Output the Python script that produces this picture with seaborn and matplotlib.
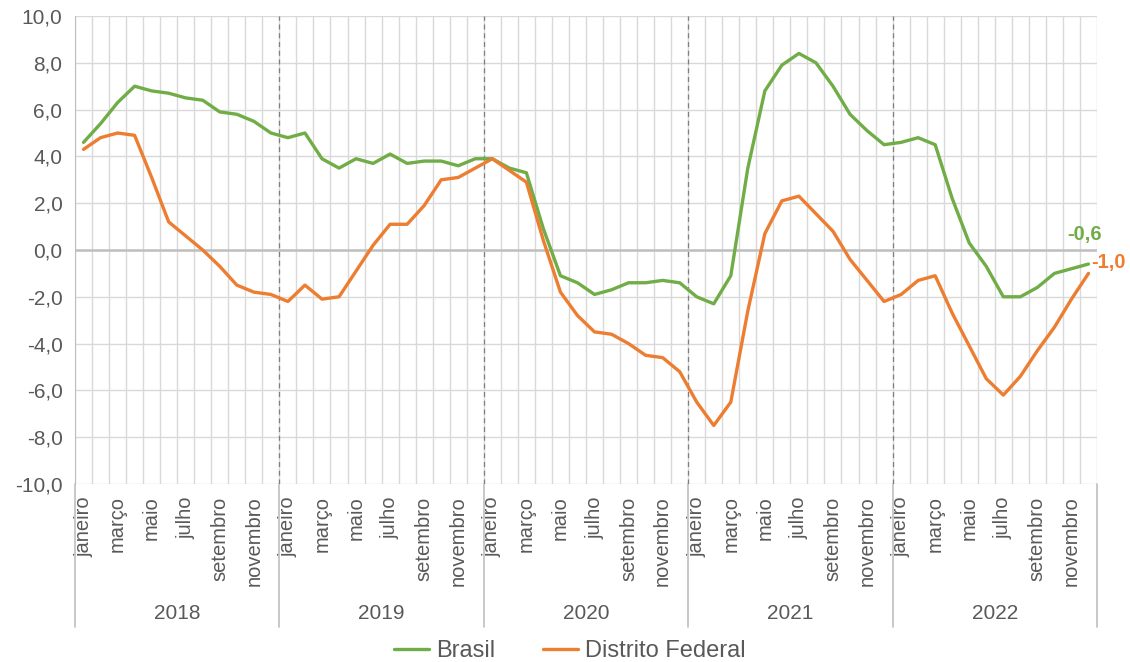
import numpy as np
import pandas as pd
import matplotlib.pyplot as plt
from matplotlib.lines import Line2D
import seaborn as sns

# ---------------------------
# Data (monthly variation, %)
# ---------------------------
anos = ["2018", "2019", "2020", "2021", "2022"]
meses = ["janeiro", "fevereiro", "março", "abril", "maio", "junho", "julho",
         "agosto", "setembro", "outubro", "novembro", "dezembro"]

brasil = [4.6, 5.4, 6.3, 7.0, 6.8, 6.7, 6.5, 6.4, 5.9, 5.8, 5.5, 5.0,
          4.8, 5.0, 3.9, 3.5, 3.9, 3.7, 4.1, 3.7, 3.8, 3.8, 3.6, 3.9,
          3.9, 3.5, 3.3, 0.9, -1.1, -1.4, -1.9, -1.7, -1.4, -1.4, -1.3, -1.4,
          -2.0, -2.3, -1.1, 3.5, 6.8, 7.9, 8.4, 8.0, 7.0, 5.8, 5.1, 4.5,
          4.6, 4.8, 4.5, 2.2, 0.3, -0.7, -2.0, -2.0, -1.6, -1.0, -0.8, -0.6]

distrito_federal = [4.3, 4.8, 5.0, 4.9, 3.1, 1.2, 0.6, 0.0, -0.7, -1.5, -1.8, -1.9,
                    -2.2, -1.5, -2.1, -2.0, -0.9, 0.2, 1.1, 1.1, 1.9, 3.0, 3.1, 3.5,
                    3.9, 3.4, 2.9, 0.4, -1.8, -2.8, -3.5, -3.6, -4.0, -4.5, -4.6, -5.2,
                    -6.5, -7.5, -6.5, -2.6, 0.7, 2.1, 2.3, 1.55, 0.8, -0.4, -1.3, -2.2,
                    -1.9, -1.3, -1.1, -2.7, -4.1, -5.5, -6.2, -5.4, -4.3, -3.3, -2.1, -1.0]

series_names = ["Brasil", "Distrito Federal"]
colors = ["#70AD47", "#ED7D31"]

n = len(brasil)
idx = np.arange(n)
df = pd.DataFrame({
    "mes": np.concatenate([idx, idx]),
    "valor": brasil + distrito_federal,
    "serie": [series_names[0]] * n + [series_names[1]] * n,
})

# ---------------------------
# Style
# ---------------------------
sns.set_style("white")
plt.rcParams["font.family"] = ["Liberation Sans", "DejaVu Sans"]
txt = "#595959"
grid_c = "#D9D9D9"

fig = plt.figure(figsize=(11.3, 6.62), dpi=100)
ax = fig.add_axes([75 / 1130, 1 - 484 / 662, 1022 / 1130, 468 / 662])

sns.lineplot(data=df, x="mes", y="valor", hue="serie", palette=colors,
             linewidth=2.4, ax=ax, zorder=5)

ax.set_xlim(-0.5, n - 0.5)
ax.set_ylim(-10, 10)

# y axis
yt = np.arange(-10, 11, 2)
ax.set_yticks(yt)
ax.set_yticklabels([f"{v:.1f}".replace(".", ",") for v in yt], fontsize=15, color=txt)
ax.tick_params(axis="y", length=5, color="#BFBFBF", width=1, pad=4)

# x axis: month labels every other month
ax.set_xticks(idx[::2])
ax.set_xticklabels([meses[i % 12] for i in idx[::2]], rotation=90, fontsize=14.5, color=txt)
ax.tick_params(axis="x", length=0, pad=9)
ax.set_xticks(np.arange(-0.5, n, 1), minor=True)
ax.tick_params(axis="x", which="minor", length=0)

ax.grid(True, axis="y", color=grid_c, linewidth=1)
ax.grid(True, axis="x", which="minor", color=grid_c, linewidth=1)
ax.axhline(0, color="#BFBFBF", linewidth=1.8, zorder=2)
for b in range(12, n, 12):
    ax.axvline(b - 0.5, color="#7F7F7F", linewidth=0.9, linestyle=(0, (4, 3)), zorder=3)

for s in ["top", "right", "bottom"]:
    ax.spines[s].set_visible(False)
ax.spines["left"].set_color("#BFBFBF")
ax.set_xlabel("")
ax.set_ylabel("")

# year labels and separators below the axis
trans = ax.get_xaxis_transform()
for k, ano in enumerate(anos):
    ax.text(12 * k + 5.5, -0.276, ano, transform=trans, ha="center", va="center",
            fontsize=15, color=txt)
for b in range(0, n + 1, 12):
    ax.add_line(Line2D([b - 0.5, b - 0.5], [0, -0.306], transform=trans,
                       color="#BFBFBF", linewidth=1.2, clip_on=False))

# end labels
ax.annotate(f"{brasil[-1]:.1f}".replace(".", ","), (n - 1, brasil[-1]),
            xytext=(-3, 21), textcoords="offset points", ha="center", va="center",
            fontsize=14.5, fontweight="bold", color=colors[0], annotation_clip=False)
ax.annotate(f"{distrito_federal[-1]:.1f}".replace(".", ","), (n - 1, distrito_federal[-1]),
            xytext=(2, 8), textcoords="offset points", ha="left", va="center",
            fontsize=14.5, fontweight="bold", color=colors[1], annotation_clip=False)

# legend at the bottom
handles, labels = ax.get_legend_handles_labels()
ax.get_legend().remove()
leg = fig.legend(handles, labels, loc="center", bbox_to_anchor=(570 / 1130, 11 / 662),
                 ncol=2, frameon=False, fontsize=17, handlelength=1.5,
                 handletextpad=0.3, columnspacing=2.0, labelcolor=txt)

fig.savefig("out.png", dpi=100)
